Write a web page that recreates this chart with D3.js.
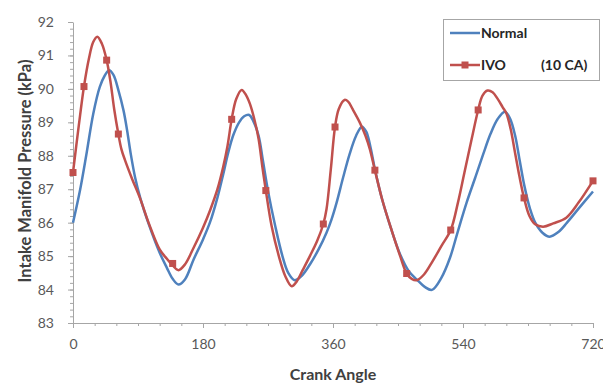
<!DOCTYPE html>
<html>
<head>
<meta charset="utf-8">
<script src="https://cdn.jsdelivr.net/npm/d3@7"></script>
<style>
  body { margin: 0; background: #fff; }
  svg { display: block; font-family: Lato, "Open Sans", sans-serif; }
</style>
</head>
<body>
<svg width="603" height="383"></svg>
<script>
// crank angle / pressure
const normalAngle = [0, 10, 19, 28, 37, 44, 50, 56, 63, 70, 75, 80, 86, 93, 105, 120, 130, 138, 146, 155, 167, 180, 190, 200, 208, 215, 222, 230, 237, 244, 250, 257, 263, 270, 280, 290, 298, 307, 317, 328, 340, 351, 358, 365, 374, 383, 392, 400, 406, 412, 418, 428, 440, 453, 465, 476, 487, 497, 510, 522, 533, 545, 557, 568, 578, 588, 598, 605, 612, 618, 625, 633, 640, 650, 660, 672, 684, 700, 720];
const normalKpa = [86.0, 87.0, 88.1, 89.25, 90.05, 90.4, 90.56, 90.42, 89.95, 89.35, 88.75, 88.05, 87.35, 86.75, 85.95, 85.1, 84.65, 84.32, 84.15, 84.3, 84.9, 85.5, 86.03, 86.75, 87.45, 88.1, 88.62, 89.0, 89.18, 89.22, 89.02, 88.6, 87.85, 86.95, 85.9, 85.0, 84.5, 84.28, 84.42, 84.75, 85.2, 85.7, 86.1, 86.6, 87.35, 88.05, 88.6, 88.87, 88.72, 88.25, 87.6, 86.7, 85.85, 85.05, 84.55, 84.3, 84.08, 83.99, 84.35, 84.95, 85.75, 86.6, 87.35, 88.05, 88.65, 89.1, 89.32, 89.12, 88.62, 87.92, 87.1, 86.4, 86.0, 85.7, 85.58, 85.72, 86.0, 86.42, 86.93];

const ivoAngle = [0, 8, 15.2, 22, 28, 33.6, 40, 46.6, 52, 57, 62.8, 67, 72, 82, 93, 105, 120, 130, 138, 146, 155, 167, 180, 190, 200, 208, 214, 219.7, 226, 233.5, 240, 245, 251, 257, 262, 267, 275, 285, 294, 302.8, 310, 318, 328, 338, 346.6, 351, 357, 362.8, 368, 376, 381, 387, 397, 405, 411, 418, 428, 440, 453, 462, 469, 476, 486, 498, 510, 523, 533, 542, 552, 561, 567, 574, 581, 588, 595, 600, 606, 612, 618, 624.5, 632, 640, 651, 665, 683, 700, 720];
const ivoKpa = [87.5, 88.9, 90.07, 90.9, 91.4, 91.56, 91.35, 90.86, 90.2, 89.4, 88.65, 88.2, 87.87, 87.3, 86.72, 85.98, 85.2, 84.92, 84.72, 84.58, 84.75, 85.25, 85.85, 86.38, 87.0, 87.67, 88.3, 89.09, 89.7, 89.97, 89.8, 89.55, 89.1, 88.5, 87.7, 86.96, 85.9, 85.0, 84.4, 84.1, 84.25, 84.58, 85.0, 85.45, 85.96, 86.4, 87.6, 88.86, 89.4, 89.67, 89.62, 89.4, 89.0, 88.6, 88.2, 87.57, 86.7, 85.85, 85.0, 84.48, 84.32, 84.28, 84.45, 84.85, 85.3, 85.78, 86.6, 87.5, 88.5, 89.37, 89.8, 89.95, 89.9, 89.7, 89.45, 89.27, 88.8, 88.1, 87.4, 86.74, 86.2, 85.95, 85.88, 85.98, 86.15, 86.6, 87.25];

// points that carry a square marker
const ivoMarkAngle = [0, 15.2, 46.6, 62.8, 138, 219.7, 267, 346.6, 362.8, 418, 462, 523, 561, 624.5, 720];
const ivoMarkKpa = [87.5, 90.07, 90.86, 88.65, 84.78, 89.09, 86.96, 85.96, 88.86, 87.57, 84.48, 85.78, 89.37, 86.74, 87.25];

const xTicks = [0, 180, 360, 540, 720];
const yTicks = [83, 84, 85, 86, 87, 88, 89, 90, 91, 92];

const seriesNames = ["Normal", "IVO"];
const seriesColors = ["#4f81bd", "#c0504d"];

const svg = d3.select("svg");

const x = d3.scaleLinear().domain([0, 720]).range([73, 593]);
const y = d3.scaleLinear().domain([83, 92]).range([323, 22]);

// minor ticks first, then major
svg.append("g")
  .attr("transform", "translate(0,323)")
  .call(d3.axisBottom(x).tickValues(d3.range(0, 721, 30)).tickSize(3).tickFormat(""))
  .call(g => g.select(".domain").remove());
svg.append("g")
  .attr("transform", "translate(73,0)")
  .call(d3.axisLeft(y).tickValues(d3.range(83, 92.01, 0.2)).tickSize(3).tickFormat(""))
  .call(g => g.select(".domain").remove());

const xAxis = svg.append("g")
  .attr("transform", "translate(0,323)")
  .call(d3.axisBottom(x).tickValues(xTicks).tickSizeInner(5).tickSizeOuter(0).tickPadding(11));
const yAxis = svg.append("g")
  .attr("transform", "translate(73,0)")
  .call(d3.axisLeft(y).tickValues(yTicks).tickSizeInner(5).tickSizeOuter(0).tickPadding(14));

svg.selectAll(".tick line, .domain").attr("stroke", "#a6a6a6");
[xAxis, yAxis].forEach(a => a.selectAll("text")
  .attr("fill", "#595959")
  .style("font-size", "14px")
  .style("font-family", "Lato, sans-serif"));

const line = d3.line()
  .x(d => x(d[0]))
  .y(d => y(d[1]))
  .curve(d3.curveCatmullRom.alpha(0.5));

const normalPts = normalAngle.map((a, i) => [a, normalKpa[i]]);
const ivoPts = ivoAngle.map((a, i) => [a, ivoKpa[i]]);

svg.append("path")
  .datum(normalPts)
  .attr("fill", "none")
  .attr("stroke", seriesColors[0])
  .attr("stroke-width", 2.5)
  .attr("d", line);

svg.append("path")
  .datum(ivoPts)
  .attr("fill", "none")
  .attr("stroke", seriesColors[1])
  .attr("stroke-width", 2.5)
  .attr("d", line);

svg.append("g").selectAll("rect")
  .data(ivoMarkAngle)
  .enter()
  .append("rect")
  .attr("x", (d) => x(d) - 3.5)
  .attr("y", (d, i) => y(ivoMarkKpa[i]) - 3.5)
  .attr("width", 7)
  .attr("height", 7)
  .attr("fill", seriesColors[1]);

// axis titles
svg.append("text")
  .attr("x", 333)
  .attr("y", 380)
  .attr("text-anchor", "middle")
  .attr("font-weight", "bold")
  .attr("font-size", 16)
  .attr("fill", "#404040")
  .text("Crank Angle");

svg.append("text")
  .attr("transform", "translate(31,171) rotate(-90)")
  .attr("text-anchor", "middle")
  .attr("font-weight", "bold")
  .attr("font-size", 16.5)
  .attr("fill", "#404040")
  .text("Intake Manifold Pressure (kPa)");

// legend
const legend = svg.append("g").attr("id", "legend");
legend.append("rect")
  .attr("x", 443.5).attr("y", 19.5)
  .attr("width", 156).attr("height", 61)
  .attr("fill", "#fff")
  .attr("stroke", "#a6a6a6");

[33, 65].forEach((ly, i) => {
  legend.append("line")
    .attr("x1", 450).attr("x2", 480)
    .attr("y1", ly).attr("y2", ly)
    .attr("stroke", seriesColors[i])
    .attr("stroke-width", 2.5);
  legend.append("text")
    .attr("x", 481).attr("y", ly + 5)
    .attr("font-weight", "bold")
    .attr("font-size", 14)
    .attr("fill", "#262626")
    .text(seriesNames[i]);
});
legend.append("rect")
  .attr("x", 461.5).attr("y", 61.5)
  .attr("width", 7).attr("height", 7)
  .attr("fill", seriesColors[1]);
legend.append("text")
  .attr("x", 541).attr("y", 70)
  .attr("font-weight", "bold")
  .attr("font-size", 14)
  .attr("fill", "#262626")
  .text("(10 CA)");
</script>
</body>
</html>
